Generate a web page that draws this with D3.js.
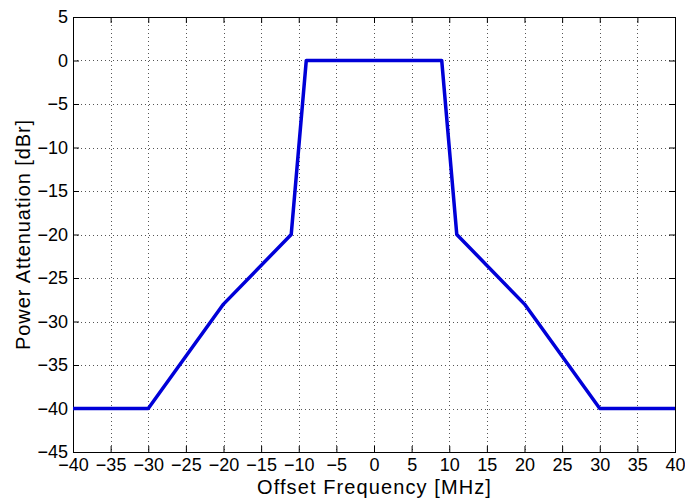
<!DOCTYPE html>
<html>
<head>
<meta charset="utf-8">
<script src="https://cdn.jsdelivr.net/npm/d3@7"></script>
<style>
  html, body { margin: 0; padding: 0; background: #fff; }
  svg { display: block; font-family: "Liberation Sans", Arial, sans-serif; }
</style>
</head>
<body>
<svg id="chart" width="685" height="501"></svg>
<script>
// Spectral mask breakpoints: offset frequency (MHz) and attenuation (dBr)
const freqMHz = [-40, -30, -20, -11, -9, 9, 11, 20, 30, 40];
const attenDbr = [-40, -40, -28, -20, 0, 0, -20, -28, -40, -40];

const xTicks = [-40, -35, -30, -25, -20, -15, -10, -5, 0, 5, 10, 15, 20, 25, 30, 35, 40];
const yTicks = [5, 0, -5, -10, -15, -20, -25, -30, -35, -40, -45];

const xLabel = "Offset Frequency [MHz]";
const yLabel = "Power Attenuation [dBr]";

const svg = d3.select("#chart");
const W = 685, H = 501;
const m = { left: 73, right: 10, top: 17, bottom: 49 };
const iw = W - m.left - m.right, ih = H - m.top - m.bottom;

const x = d3.scaleLinear().domain([-40, 40]).range([m.left, m.left + iw]);
const y = d3.scaleLinear().domain([-45, 5]).range([m.top + ih, m.top]);

// dotted grid
const grid = svg.append("g").attr("stroke", "#555").attr("stroke-width", 1)
  .attr("stroke-dasharray", "1,3").attr("shape-rendering", "crispEdges");
grid.selectAll("line.gx").data(xTicks.slice(1, -1)).join("line")
  .attr("x1", d => Math.round(x(d)) + 0.5).attr("x2", d => Math.round(x(d)) + 0.5)
  .attr("y1", m.top).attr("y2", m.top + ih);
grid.selectAll("line.gy").data(yTicks.slice(1, -1)).join("line")
  .attr("y1", d => Math.round(y(d)) + 0.5).attr("y2", d => Math.round(y(d)) + 0.5)
  .attr("x1", m.left).attr("x2", m.left + iw);

// axes with inward ticks on all four sides
const tickLen = 6;
const fs = "18px";
const bottomAxis = d3.axisBottom(x).tickValues(xTicks).tickSize(-tickLen).tickPadding(6);
const leftAxis = d3.axisLeft(y).tickValues(yTicks).tickSize(-tickLen).tickPadding(5);
const topAxis = d3.axisTop(x).tickValues(xTicks).tickSize(-tickLen).tickFormat("");
const rightAxis = d3.axisRight(y).tickValues(yTicks).tickSize(-tickLen).tickFormat("");

function style(g) {
  g.select(".domain").remove();
  g.selectAll(".tick line").attr("stroke", "#000");
  g.selectAll("text").attr("fill", "#000").style("font-size", fs)
    .style("font-family", "'Liberation Sans', Arial, sans-serif");
}
svg.append("g").attr("transform", `translate(0,${m.top + ih})`).call(bottomAxis).call(style);
svg.append("g").attr("transform", `translate(${m.left},0)`).call(leftAxis).call(style);
svg.append("g").attr("transform", `translate(0,${m.top})`).call(topAxis).call(style);
svg.append("g").attr("transform", `translate(${m.left + iw},0)`).call(rightAxis).call(style);

// frame
svg.append("rect").attr("x", m.left + 0.5).attr("y", m.top + 0.5)
  .attr("width", iw).attr("height", ih)
  .attr("fill", "none").attr("stroke", "#000").attr("stroke-width", 1);

// mask curve
const line = d3.line().x((d, i) => x(d)).y((d, i) => y(attenDbr[i]));
svg.append("path").datum(freqMHz)
  .attr("d", line)
  .attr("fill", "none").attr("stroke", "#0000d8").attr("stroke-width", 3.5)
  .attr("stroke-linejoin", "round");

// axis titles
svg.append("text").attr("x", x(0) + 0.5).attr("y", 494)
  .attr("text-anchor", "middle").style("font-size", "20px")
  .style("letter-spacing", "1.1px").attr("fill", "#000")
  .text(xLabel);
svg.append("text").attr("transform", `translate(30,${y(-20)}) rotate(-90)`)
  .attr("text-anchor", "middle").style("font-size", "20px")
  .style("letter-spacing", "0.9px").attr("fill", "#000")
  .text(yLabel);
</script>
</body>
</html>
